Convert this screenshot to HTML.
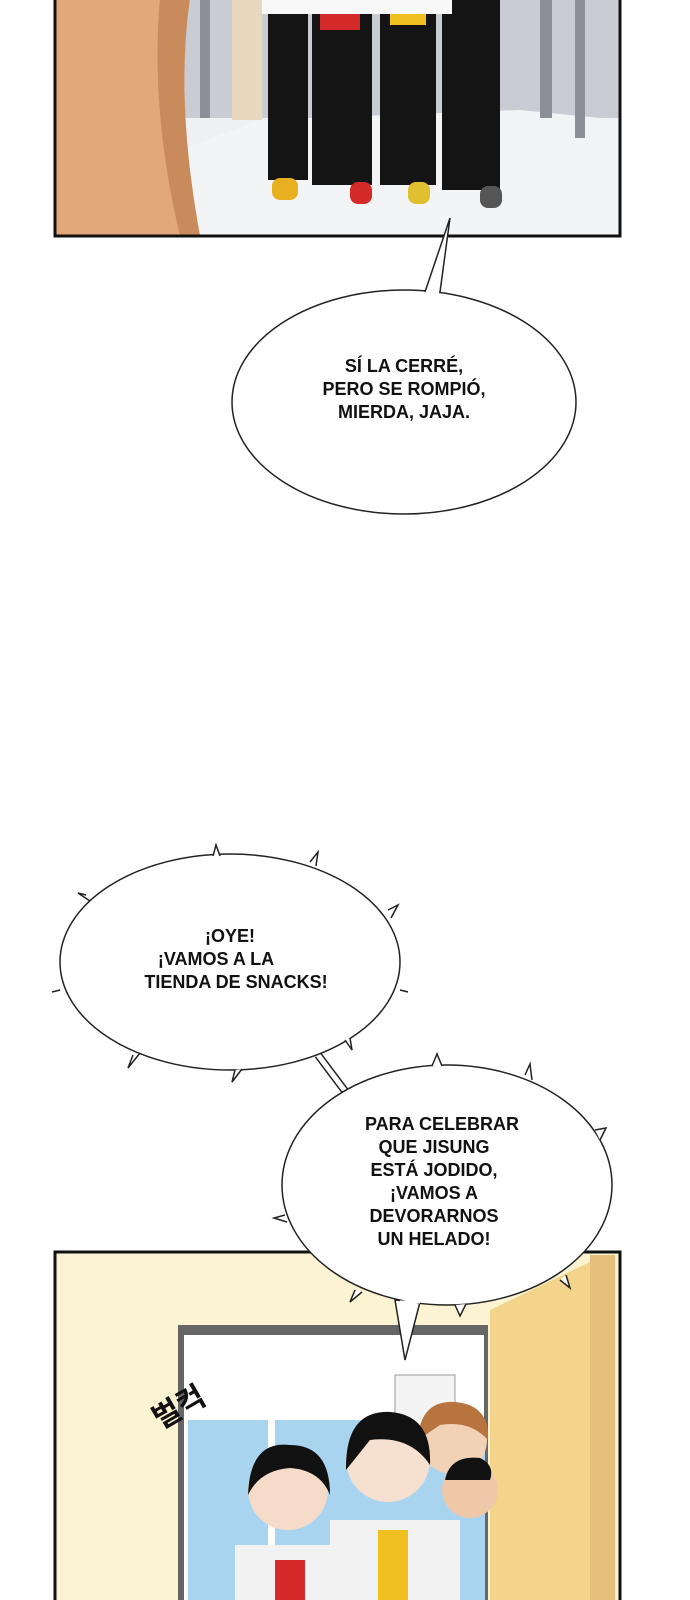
<!DOCTYPE html>
<html><head><meta charset="utf-8"><style>
html,body{margin:0;padding:0;background:#fff}
body{width:690px;height:1600px;overflow:hidden}
svg{display:block}
text{font-family:"Liberation Sans","Noto Sans CJK KR",sans-serif;font-weight:bold;fill:#111}
</style></head><body>
<svg width="690" height="1600" viewBox="0 0 690 1600" xmlns="http://www.w3.org/2000/svg">
<!-- top panel -->
<rect x="55" y="-2" width="565" height="238" fill="#eef0f3"/>
<rect x="180" y="-2" width="440" height="120" fill="#c9ccd3"/>
<polygon points="180,236 620,236 620,120 520,110 260,120 180,150" fill="#f3f4f6"/>
<rect x="540" y="-2" width="12" height="120" fill="#8a8f98"/>
<rect x="575" y="-2" width="10" height="140" fill="#8a8f98"/>
<rect x="200" y="-2" width="10" height="120" fill="#8a8f98"/>
<!-- legs -->
<rect x="268" y="0" width="40" height="180" fill="#141414"/>
<rect x="312" y="0" width="60" height="185" fill="#141414"/>
<rect x="320" y="0" width="40" height="30" fill="#d42a2a"/>
<rect x="380" y="0" width="56" height="185" fill="#141414"/>
<rect x="390" y="0" width="36" height="25" fill="#f0c020"/>
<rect x="442" y="0" width="58" height="190" fill="#141414"/>
<rect x="262" y="0" width="190" height="14" fill="#f8f8f8"/>
<rect x="272" y="178" width="26" height="22" rx="8" fill="#e8b020"/>
<rect x="350" y="182" width="22" height="22" rx="8" fill="#d42a2a"/>
<rect x="408" y="182" width="22" height="22" rx="8" fill="#e0c030"/>
<rect x="480" y="186" width="22" height="22" rx="8" fill="#555"/>
<rect x="232" y="0" width="30" height="120" fill="#e8d8c0"/>
<!-- orange figure -->
<path d="M55,-2 L190,-2 Q175,100 200,236 L55,236 Z" fill="#e3a87a"/>
<path d="M160,-2 Q150,110 180,236 L200,236 Q175,100 190,-2Z" fill="#c98a5c"/>
<rect x="55" y="-2" width="565" height="238" fill="none" stroke="#111" stroke-width="3"/>
<!-- bubble 1 -->
<ellipse cx="404" cy="402" rx="172" ry="112" fill="#fff" stroke="#222" stroke-width="1.5"/>
<path d="M425,292 L450,218 L440,292" fill="#fff" stroke="#222" stroke-width="1.5"/>
<line x1="426" y1="292" x2="439" y2="292" stroke="#fff" stroke-width="3"/>
<text x="404" y="372" font-size="18" text-anchor="middle">SÍ LA CERRÉ,</text>
<text x="404" y="395" font-size="18" text-anchor="middle">PERO SE ROMPIÓ,</text>
<text x="404" y="418" font-size="18" text-anchor="middle">MIERDA, JAJA.</text>
<!-- connector -->
<line x1="318" y1="1055" x2="348" y2="1095" stroke="#222" stroke-width="8"/>
<line x1="318" y1="1055" x2="348" y2="1095" stroke="#fff" stroke-width="5"/>
<!-- bottom panel -->
<rect x="55" y="1252" width="565" height="350" fill="#fbf3d2"/>
<rect x="178" y="1325" width="310" height="280" fill="#666"/>
<rect x="184" y="1335" width="300" height="270" fill="#fff"/>
<rect x="188" y="1420" width="80" height="180" fill="#a9d4f0"/>
<rect x="275" y="1420" width="210" height="180" fill="#a9d4f0"/>
<rect x="395" y="1375" width="60" height="60" fill="#f4f4f4" stroke="#999"/>
<polygon points="490,1310 590,1262 600,1602 490,1602" fill="#f3d48a"/>
<rect x="590" y="1255" width="25" height="347" fill="#e5c07a"/>
<!-- kids -->
<circle cx="288" cy="1490" r="40" fill="#f6dcc8"/>
<path d="M248,1495 Q250,1440 290,1445 Q330,1445 330,1495 Q320,1470 290,1468 Q260,1470 248,1495Z" fill="#111"/>
<rect x="235" y="1545" width="110" height="60" fill="#f2f2f2"/>
<rect x="275" y="1560" width="30" height="45" fill="#d42a2a"/>
<circle cx="453" cy="1440" r="34" fill="#f2d2b6"/>
<path d="M418,1440 Q420,1400 455,1402 Q490,1405 488,1440 Q470,1420 440,1425Z" fill="#b8743f"/>
<circle cx="388" cy="1460" r="42" fill="#f6e0d0"/>
<path d="M346,1470 Q345,1410 390,1412 Q432,1415 430,1465 Q410,1435 370,1440Z" fill="#111"/>
<rect x="330" y="1520" width="130" height="85" fill="#f2f2f2"/>
<rect x="378" y="1530" width="30" height="75" fill="#f0c020"/>
<circle cx="470" cy="1490" r="28" fill="#eec8a8"/>
<path d="M445,1480 Q450,1455 480,1458 Q495,1465 490,1480Z" fill="#111"/>
<text x="0" y="0" font-size="30" transform="translate(160,1430) rotate(-30)">벌컥</text>
<rect x="55" y="1252" width="565" height="350" fill="none" stroke="#111" stroke-width="3"/>
<!-- spiky bubble 2 -->
<g stroke="#222" stroke-width="1.5" fill="#fff">
<ellipse cx="230" cy="962" rx="170" ry="108"/>
<path d="M213,856 L216,845 L220,856 M310,862 L318,852 L316,866 M86,895 L78,893 L90,901 M388,910 L398,905 L391,918 M52,992 L60,990 M400,990 L408,992 M133,1055 L128,1068 L140,1053 M235,1070 L232,1082 L242,1069 M345,1040 L352,1050 L350,1038"/>
</g>
<text x="230" y="942" font-size="18" text-anchor="middle">¡OYE!</text>
<text x="216" y="965" font-size="18" text-anchor="middle">¡VAMOS A LA</text>
<text x="236" y="988" font-size="18" text-anchor="middle">TIENDA DE SNACKS!</text>
<!-- spiky bubble 3 -->
<g stroke="#222" stroke-width="1.5" fill="#fff">
<path d="M395,1300 L405,1360 L420,1302Z"/>
<ellipse cx="447" cy="1185" rx="165" ry="120"/>
<path d="M400,1302 L420,1302" stroke="#fff" stroke-width="3"/>
<path d="M432,1066 L437,1054 L442,1066 M525,1075 L530,1064 L532,1080 M595,1130 L606,1128 L600,1140 M285,1215 L274,1218 L287,1222 M355,1290 L350,1302 L362,1292 M560,1280 L570,1288 L566,1275 M455,1305 L460,1316 L466,1304"/>
</g>
<text x="442" y="1130" font-size="18" text-anchor="middle">PARA CELEBRAR</text>
<text x="434" y="1153" font-size="18" text-anchor="middle">QUE JISUNG</text>
<text x="434" y="1176" font-size="18" text-anchor="middle">ESTÁ JODIDO,</text>
<text x="434" y="1199" font-size="18" text-anchor="middle">¡VAMOS A</text>
<text x="434" y="1222" font-size="18" text-anchor="middle">DEVORARNOS</text>
<text x="434" y="1245" font-size="18" text-anchor="middle">UN HELADO!</text>
</svg>
</body></html>
